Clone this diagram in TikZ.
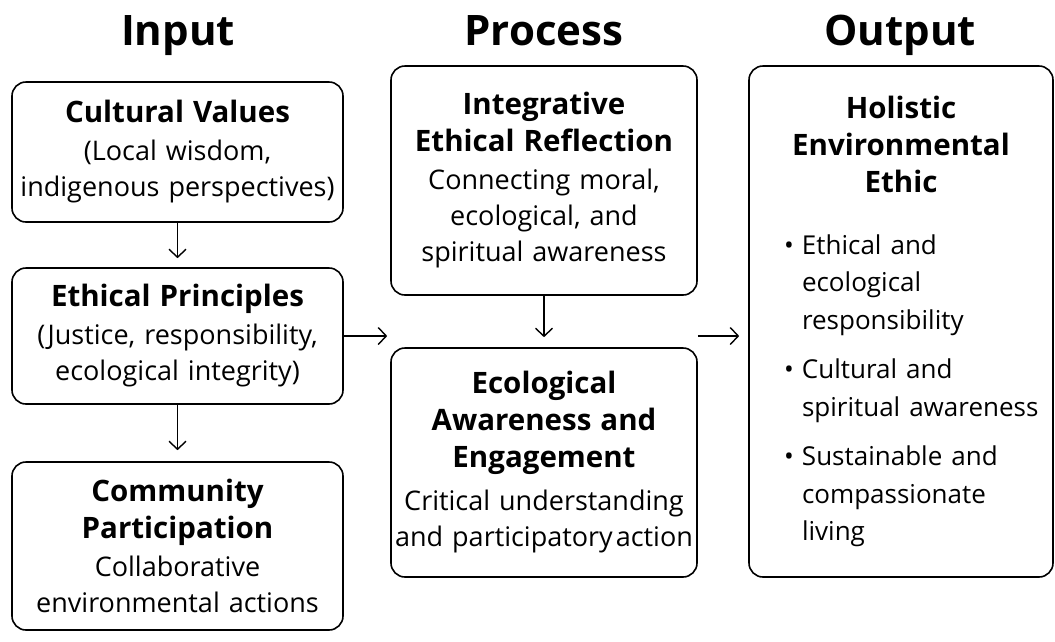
\documentclass[tikz,border=0pt]{standalone}
\usepackage{fontspec}
\setmainfont{Open Sans}
\usetikzlibrary{arrows.meta}
\newcommand{\ttlfont}{\fontsize{29.5}{37}\selectfont\bfseries}
\newcommand{\ttl}[1]{{\ttlfont #1\par}\vskip 2pt}
\newcommand{\itm}{\par\vskip 12pt\noindent\llap{\textbullet\hskip 8pt}}
\begin{document}
\begin{tikzpicture}[
    x=1pt, y=-1pt,
    box/.style={draw, line width=1.6pt, rounded corners=14pt, align=center,
      inner sep=0pt, font=\fontsize{27}{36}\selectfont},
    head/.style={anchor=base, font=\fontsize{42}{50}\selectfont\bfseries},
    arr/.style={-{Straight Barb[length=8pt,width=17pt]}, line width=1.4pt}
    ]
  \useasboundingbox (0,0) rectangle (1055,641);
  % column headings
  \node[head] (input) at (178,45) {Input};
  \node[head] (process) at (544,45) {Process};
  \node[head] (output) at (900,45) {Output};
  % input column
  \node[box, minimum width=331pt, minimum height=140pt, text width=327pt] (cultural) at (177.5,152)
    {\ttl{Cultural Values}(Local wisdom,\\indigenous perspectives)};
  \node[box, minimum width=331pt, minimum height=136pt, text width=327pt] (principles) at (177.5,336)
    {\ttl{Ethical Principles}(Justice, responsibility,\\ecological integrity)};
  \node[box, minimum width=331pt, minimum height=168pt, text width=327pt] (community) at (177.5,546)
    {\ttl{Community\\Participation}Collaborative\\environmental actions};
  % process column
  \node[box, minimum width=306pt, minimum height=229pt, text width=304pt] (reflection) at (544,180.5)
    {\ttl{Integrative\\Ethical Reflection}Connecting moral,\\ecological, and\\spiritual awareness};
  \node[box, minimum width=306pt, minimum height=229pt, text width=304pt] (engage) at (544,462.5)
    {\ttl{Ecological\\Awareness and\\Engagement}\vskip 5pt Critical understanding\\and participatory\hspace{3pt}action};
  % output column
  \node[box, align=left, minimum width=304pt, minimum height=511pt, text width=300pt] (holistic) at (901,321.5)
    {{\centering\ttl{Holistic\\Environmental\\Ethic}}\vskip 22pt
     \fontsize{26}{37.5}\selectfont
     \leftskip=51pt \hyphenpenalty=10000
     \noindent\llap{\textbullet\hskip 8pt}Ethical and\\ecological\\responsibility
     \itm Cultural and\\\mbox{spiritual awareness}
     \itm Sustainable and\\compassionate\\living\par};
  % connectors
  \draw[arr, shorten >=9pt] (cultural) -- (principles);
  \draw[arr, shorten >=11pt] (principles) -- (community);
  \draw[arr, shorten >=10pt] (reflection) -- (engage);
  \draw[arr, shorten >=3pt] (principles.east) -- (principles.east -| engage.west);
  \draw[arr, shorten >=9pt] (engage.east |- principles.east) -- (principles.east -| holistic.west);
\end{tikzpicture}
\end{document}
